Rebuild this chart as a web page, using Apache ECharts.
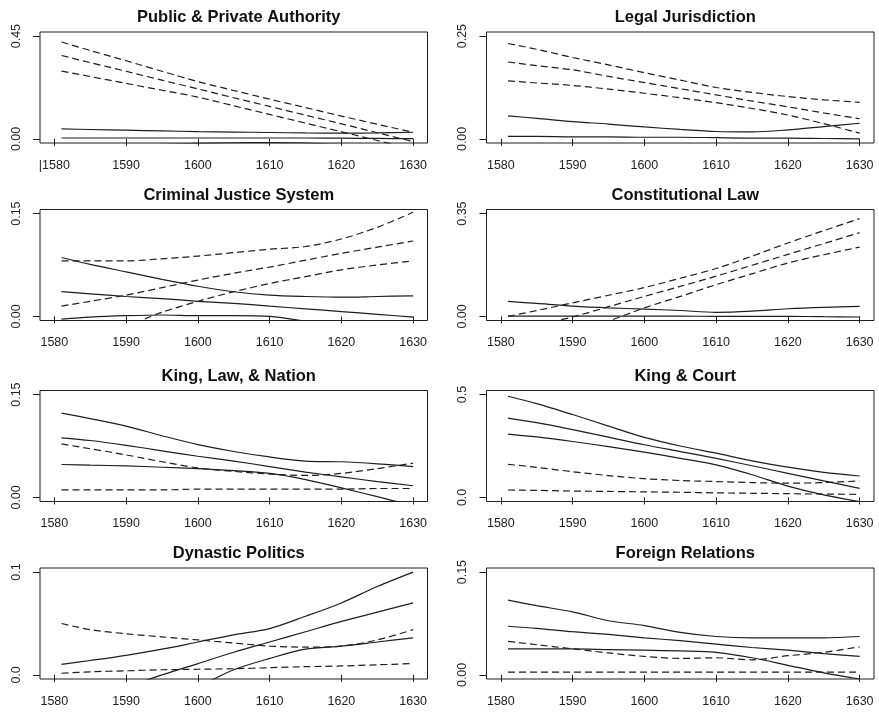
<!DOCTYPE html>
<html>
<head>
<meta charset="utf-8">
<script src="https://cdn.jsdelivr.net/npm/echarts@6/dist/echarts.min.js"></script>
<style>
  html, body { margin: 0; padding: 0; background: #fff; }
  #chart { width: 879px; height: 713px; }
</style>
</head>
<body>
<div id="chart"></div>
<script>
// Sample years shared by every curve
const years = [1581, 1585, 1590, 1595, 1600, 1605, 1610, 1615, 1620, 1625, 1630];
const xTicks = [1580, 1590, 1600, 1610, 1620, 1630];
const xTickLabelsFirst = ['|1580', '1590', '1600', '1610', '1620', '1630'];

const panelTitles = [
  'Public & Private Authority', 'Legal Jurisdiction',
  'Criminal Justice System', 'Constitutional Law',
  'King, Law, & Nation', 'King & Court',
  'Dynastic Politics', 'Foreign Relations'
];
const yMax = [0.45, 0.25, 0.15, 0.35, 0.15, 0.5, 0.1, 0.15];
const yTickLabels = [
  ['0.00', '0.45'], ['0.00', '0.25'], ['0.00', '0.15'], ['0.00', '0.35'],
  ['0.00', '0.15'], ['0.0', '0.5'], ['0.0', '0.1'], ['0.00', '0.15']
];

// Public & Private Authority
const authoritySolid = [
  [0.044, 0.041, 0.038, 0.035, 0.032, 0.030, 0.028, 0.026, 0.025, 0.026, 0.029],
  [0.004, 0.004, 0.004, 0.004, 0.004, 0.004, 0.004, 0.004, 0.003, 0.002, 0.001],
  [-0.045, -0.038, -0.030, -0.024, -0.020, -0.017, -0.016, -0.018, -0.024, -0.032, -0.042]
];
const authorityDashed = [
  [0.424, 0.387, 0.342, 0.296, 0.251, 0.212, 0.174, 0.137, 0.100, 0.064, 0.029],
  [0.365, 0.334, 0.296, 0.257, 0.219, 0.180, 0.142, 0.104, 0.066, 0.027, -0.012],
  [0.297, 0.273, 0.243, 0.213, 0.183, 0.145, 0.107, 0.069, 0.031, -0.007, -0.045]
];

// Legal Jurisdiction
const jurisdictionSolid = [
  [0.056, 0.050, 0.042, 0.036, 0.029, 0.023, 0.018, 0.017, 0.022, 0.030, 0.038],
  [0.006, 0.006, 0.005, 0.005, 0.004, 0.004, 0.003, 0.002, 0.002, 0.001, 0.000]
];
const jurisdictionDashed = [
  [0.232, 0.218, 0.198, 0.180, 0.161, 0.143, 0.125, 0.113, 0.103, 0.095, 0.089],
  [0.187, 0.178, 0.168, 0.152, 0.137, 0.122, 0.107, 0.092, 0.078, 0.063, 0.049],
  [0.141, 0.136, 0.130, 0.121, 0.111, 0.100, 0.088, 0.074, 0.058, 0.037, 0.014]
];

// Criminal Justice System
const criminalSolid = [
  [0.086, 0.076, 0.065, 0.054, 0.044, 0.036, 0.031, 0.029, 0.028, 0.029, 0.030],
  [0.036, 0.033, 0.029, 0.026, 0.022, 0.019, 0.015, 0.011, 0.007, 0.003, -0.001],
  [-0.004, -0.001, 0.001, 0.002, 0.001, 0.001, 0.000, -0.007, -0.016, -0.028, -0.042]
];
const criminalDashed = [
  [0.081, 0.081, 0.081, 0.084, 0.088, 0.093, 0.098, 0.102, 0.113, 0.130, 0.152],
  [0.015, 0.022, 0.031, 0.042, 0.053, 0.063, 0.072, 0.082, 0.092, 0.101, 0.110],
  [-0.045, -0.030, -0.014, 0.006, 0.022, 0.036, 0.048, 0.058, 0.068, 0.075, 0.081]
];

// Constitutional Law
const constitutionalSolid = [
  [0.051, 0.044, 0.035, 0.029, 0.025, 0.020, 0.014, 0.018, 0.026, 0.031, 0.034],
  [0.001, 0.001, 0.001, 0.001, 0.001, 0.001, 0.000, 0.000, 0.000, -0.001, -0.002]
];
const constitutionalDashed = [
  [0.000, 0.020, 0.046, 0.072, 0.098, 0.130, 0.163, 0.205, 0.250, 0.292, 0.333],
  [-0.058, -0.030, -0.002, 0.033, 0.068, 0.102, 0.137, 0.174, 0.211, 0.248, 0.285],
  [-0.120, -0.090, -0.055, -0.016, 0.029, 0.068, 0.108, 0.145, 0.182, 0.210, 0.236]
];

// King, Law, & Nation
const nationSolid = [
  [0.123, 0.115, 0.104, 0.090, 0.077, 0.067, 0.059, 0.053, 0.052, 0.049, 0.045],
  [0.087, 0.083, 0.076, 0.068, 0.060, 0.053, 0.045, 0.037, 0.030, 0.023, 0.017],
  [0.048, 0.047, 0.046, 0.044, 0.042, 0.039, 0.035, 0.026, 0.014, 0.001, -0.012]
];
const nationDashed = [
  [0.078, 0.071, 0.062, 0.052, 0.043, 0.038, 0.034, 0.032, 0.035, 0.042, 0.050],
  [0.011, 0.011, 0.011, 0.011, 0.012, 0.012, 0.012, 0.012, 0.012, 0.013, 0.013]
];

// King & Court
const courtSolid = [
  [0.492, 0.456, 0.403, 0.347, 0.292, 0.250, 0.215, 0.178, 0.147, 0.122, 0.104],
  [0.386, 0.364, 0.330, 0.293, 0.256, 0.223, 0.190, 0.154, 0.117, 0.080, 0.044],
  [0.308, 0.294, 0.272, 0.247, 0.220, 0.190, 0.158, 0.110, 0.055, 0.012, -0.021]
];
const courtDashed = [
  [0.161, 0.146, 0.125, 0.106, 0.091, 0.082, 0.077, 0.072, 0.069, 0.072, 0.080],
  [0.036, 0.034, 0.031, 0.029, 0.027, 0.025, 0.022, 0.020, 0.018, 0.016, 0.015]
];

// Dynastic Politics
const dynasticSolid = [
  [0.0103, 0.014, 0.019, 0.025, 0.032, 0.039, 0.045, 0.057, 0.070, 0.086, 0.100],
  [-0.035, -0.025, -0.012, 0.000, 0.011, 0.022, 0.032, 0.042, 0.052, 0.061, 0.070],
  [-0.070, -0.060, -0.045, -0.030, -0.012, 0.005, 0.016, 0.025, 0.028, 0.032, 0.036]
];
const dynasticDashed = [
  [0.050, 0.044, 0.040, 0.037, 0.034, 0.031, 0.028, 0.027, 0.028, 0.034, 0.044],
  [0.0016, 0.003, 0.004, 0.005, 0.0055, 0.006, 0.007, 0.008, 0.0087, 0.0098, 0.011]
];

// Foreign Relations
const foreignSolid = [
  [0.109, 0.101, 0.092, 0.079, 0.072, 0.062, 0.056, 0.054, 0.054, 0.054, 0.056],
  [0.071, 0.068, 0.063, 0.059, 0.054, 0.050, 0.045, 0.040, 0.036, 0.031, 0.027],
  [0.038, 0.038, 0.038, 0.037, 0.036, 0.035, 0.033, 0.025, 0.014, 0.003, -0.006]
];
const foreignDashed = [
  [0.049, 0.044, 0.038, 0.032, 0.027, 0.024, 0.025, 0.022, 0.028, 0.033, 0.041],
  [0.004, 0.004, 0.004, 0.004, 0.004, 0.004, 0.004, 0.004, 0.004, 0.004, 0.004]
];

const solidSets = [authoritySolid, jurisdictionSolid, criminalSolid, constitutionalSolid,
                   nationSolid, courtSolid, dynasticSolid, foreignSolid];
const dashedSets = [authorityDashed, jurisdictionDashed, criminalDashed, constitutionalDashed,
                    nationDashed, courtDashed, dynasticDashed, foreignDashed];

// Panel placement (pixels)
const colLeft = [40, 486.5];
const plotWidth = 387.5;
const rowTop = [32, 209.5, 390.5, 568];
const plotHeight = 111;

const FONT = '"Liberation Sans", Arial, Helvetica, sans-serif';
const INK = '#1e1e1e';

const grids = [], xAxes = [], yAxes = [], titles = [], series = [];

for (let p = 0; p < 8; p++) {
  const left = colLeft[p % 2];
  const top = rowTop[Math.floor(p / 2)];
  const M = yMax[p];
  grids.push({
    left: left, top: top, width: plotWidth, height: plotHeight,
    show: true, borderColor: INK, borderWidth: 1, backgroundColor: 'transparent',
    containLabel: false
  });
  titles.push({
    text: panelTitles[p],
    left: left + plotWidth / 2,
    top: top - 28,
    textAlign: 'center',
    textStyle: { fontFamily: FONT, fontSize: 16.5, fontWeight: 'bold', color: '#111' }
  });
  const xLabels = p === 0 ? xTickLabelsFirst : xTicks.map(String);
  xAxes.push({
    type: 'value', gridIndex: p, min: 1578, max: 1632,
    axisLine: { show: false },
    splitLine: { show: false },
    axisTick: { show: true, length: 7, inside: false, customValues: xTicks,
                lineStyle: { color: INK, width: 1 } },
    axisLabel: { show: true, customValues: xTicks, margin: 16,
                 fontFamily: FONT, fontSize: 12.5, color: '#222',
                 formatter: (v) => xLabels[xTicks.indexOf(v)] }
  });
  const yl = yTickLabels[p];
  yAxes.push({
    type: 'value', gridIndex: p, min: -0.04 * M, max: 1.04 * M,
    axisLine: { show: false },
    splitLine: { show: false },
    axisTick: { show: true, length: 7, inside: false, customValues: [0, M],
                lineStyle: { color: INK, width: 1 } },
    axisLabel: { show: true, customValues: [0, M], rotate: 90, margin: 17,
                 fontFamily: FONT, fontSize: 12.5, color: '#222',
                 formatter: (v) => (v === 0 ? yl[0] : yl[1]) }
  });
  const addLines = (set, dashed) => {
    set.forEach((vals) => {
      series.push({
        type: 'line', xAxisIndex: p, yAxisIndex: p,
        data: years.map((yr, i) => [yr, vals[i]]),
        showSymbol: false, symbol: 'none', smooth: 0.3,
        clip: true, silent: true,
        lineStyle: { color: INK, width: 1.2, type: dashed ? [7, 4] : 'solid' }
      });
    });
  };
  addLines(solidSets[p], false);
  addLines(dashedSets[p], true);
}

const chart = echarts.init(document.getElementById('chart'), null, { renderer: 'canvas' });
chart.setOption({
  animation: false,
  backgroundColor: '#fff',
  title: titles,
  grid: grids,
  xAxis: xAxes,
  yAxis: yAxes,
  series: series
});
</script>
</body>
</html>
